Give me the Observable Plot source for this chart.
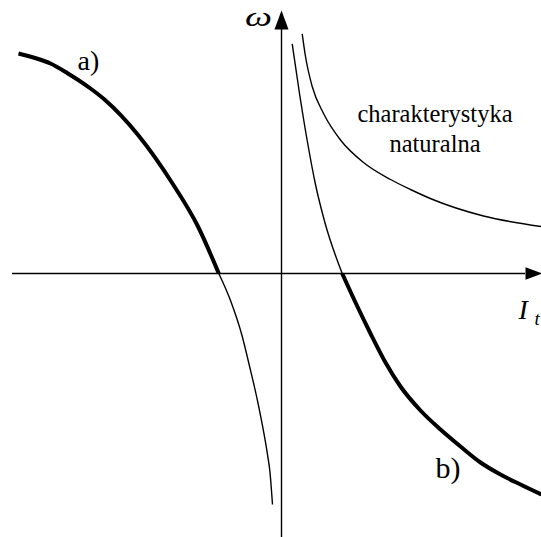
<!DOCTYPE html>
<html>
<head>
<meta charset="utf-8">
<script src="https://cdn.jsdelivr.net/npm/d3@7"></script>
<script src="https://cdn.jsdelivr.net/npm/@observablehq/plot@0.6"></script>
<style>
  html, body { margin: 0; padding: 0; background: #fff; overflow: hidden; }
  svg text { font-family: "Liberation Serif", "DejaVu Serif", "Noto Serif", serif; }
</style>
</head>
<body>
<div id="chart"></div>
<script>
// Speed–current characteristics ω(I_t) of a series DC motor.
// Each curve segment is kept as a pair of arrays: current I_t and speed ω.

// a) – thick working part (upper left) and its thin continuation
const aThickI = [-2.63, -2.48, -2.31, -2.14, -1.91, -1.77, -1.43, -1.09, -0.84, -0.627];
const aThickW = [ 2.20,  2.16,  2.10,  2.003, 1.85,  1.74,  1.38,  0.90,  0.48,  0.00];
const aThinI  = [-0.627, -0.51, -0.395, -0.326, -0.23, -0.136, -0.117, -0.09];
const aThinW  = [ 0.00,  -0.27, -0.62,  -0.90,  -1.32, -1.836, -1.97,  -2.31];

// b) – thin part above the I_t axis and thick working part below it
const bThinI  = [0.107, 0.18, 0.257, 0.34, 0.434, 0.607];
const bThinW  = [2.297, 1.80, 1.33,  0.89, 0.51,  0.00];
const bThickI = [0.607, 0.74, 0.89, 1.04, 1.19, 1.39, 1.59, 1.79, 1.99, 2.19, 2.39, 2.60];
const bThickW = [0.00, -0.29, -0.60, -0.89, -1.13, -1.37, -1.56, -1.73, -1.89, -2.01, -2.11, -2.21];

// natural characteristic
const natI = [0.207, 0.24, 0.307, 0.423, 0.59, 0.82, 1.09, 1.29, 1.50, 2.02, 2.60];
const natW = [2.397, 2.17, 1.87,  1.595, 1.335, 1.11, 0.94, 0.84, 0.745, 0.575, 0.47];

// axis extents (I_t axis, ω axis) and arrowhead base positions
const axisI = [-2.69, 2.44];
const axisW = [-2.64, 2.44];

// curve labels
const labelText = ["a)", "b)", "charakterystyka", "naturalna"];
const labelI    = [-2.04, 1.54, 1.535, 1.535];
const labelW    = [ 2.04, -2.04, 1.513, 1.213];

const serif = "'Liberation Serif', 'DejaVu Serif', 'Noto Serif', serif";
const toRows = (I, W) => I.map((v, i) => ({I: v, w: W[i]}));

// filled arrowhead pointing up, base centred on the anchor point
const arrowHead = {
  draw(context, size) {
    const L = Math.sqrt(size / Math.PI);
    const W = L * 0.37;
    context.moveTo(0, -L);
    context.lineTo(W, 0);
    context.lineTo(-W, 0);
    context.closePath();
  }
};

const lineOpts = (w) => ({x: "I", y: "w", curve: "monotone-x", stroke: "black", strokeWidth: w, strokeLinecap: "butt"});
const textOpts = (o) => ({fill: "black", fontFamily: serif, lineAnchor: "bottom", ...o});

const chart = Plot.plot({
  width: 541,
  height: 537,
  margin: 0,
  x: {domain: [-2.81, 2.60], axis: null},
  y: {domain: [-2.64, 2.73], axis: null},
  style: {background: "white", color: "black"},
  marks: [
    // axes
    Plot.ruleY([0], {x1: axisI[0], x2: axisI[1], stroke: "black", strokeWidth: 1.5}),
    Plot.ruleX([0], {y1: axisW[0], y2: axisW[1], stroke: "black", strokeWidth: 1.4}),
    Plot.dot([{I: 0, w: axisW[1]}], {x: "I", y: "w", symbol: arrowHead, r: 19, fill: "black", stroke: null}),
    Plot.dot([{I: axisI[1], w: 0}], {x: "I", y: "w", symbol: arrowHead, r: 17, rotate: 90, fill: "black", stroke: null}),

    // characteristics
    Plot.line(toRows(natI, natW), lineOpts(1.4)),
    Plot.line(toRows(aThinI, aThinW), lineOpts(1.4)),
    Plot.line(toRows(bThinI, bThinW), lineOpts(1.4)),
    Plot.line(toRows(aThickI, aThickW), lineOpts(4)),
    Plot.line(toRows(bThickI, bThickW), lineOpts(4)),

    // curve labels
    Plot.text([0], textOpts({x: labelI[0], y: labelW[0], text: [labelText[0]], fontSize: 28, textAnchor: "start"})),
    Plot.text([0], textOpts({x: labelI[1], y: labelW[1], text: [labelText[1]], fontSize: 30, textAnchor: "start"})),
    Plot.text([0], textOpts({x: labelI[2], y: labelW[2], text: [labelText[2]], fontSize: 24.5, textAnchor: "middle"})),
    Plot.text([0], textOpts({x: labelI[3], y: labelW[3], text: [labelText[3]], fontSize: 24.5, textAnchor: "middle"})),

    // axis names
    Plot.text([0], textOpts({x: -0.23, y: 2.48, text: ["ω"], fontSize: 27, fontStyle: "italic", textAnchor: "middle"})),
    Plot.text([0], textOpts({x: 2.37, y: -0.45, text: ["I"], fontSize: 28, fontStyle: "italic", textAnchor: "start"})),
    Plot.text([0], textOpts({x: 2.53, y: -0.51, text: ["t"], fontSize: 19, fontStyle: "italic", textAnchor: "start"}))
  ]
});

// widen the omega glyph to the wide symbol-font shape
d3.select(chart).selectAll("text")
  .filter(function () { return this.textContent === "ω"; })
  .attr("textLength", 27)
  .attr("lengthAdjust", "spacingAndGlyphs");

document.getElementById("chart").appendChild(chart);
</script>
</body>
</html>
